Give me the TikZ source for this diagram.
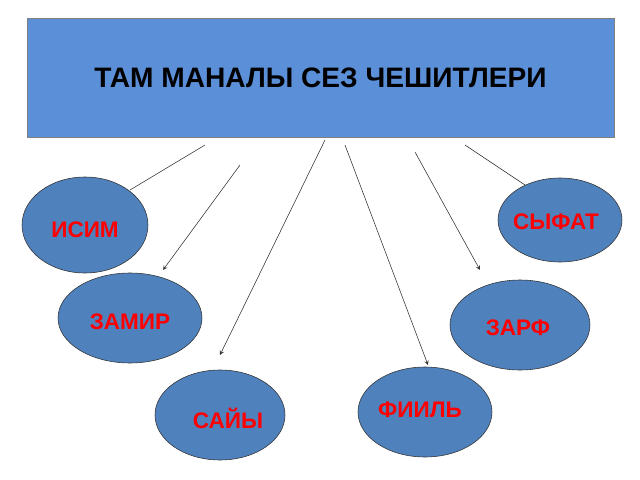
\documentclass[tikz,border=0pt]{standalone}
\usepackage{fontspec}
\setmainfont{Liberation Sans}
\definecolor{boxblue}{HTML}{5B8FD8}
\definecolor{ovalblue}{HTML}{4F81BD}
\begin{document}
\begin{tikzpicture}[x=0.025cm,y=-0.025cm,%
% common options for the ovals:
oval/.style = {draw=black!80, fill=ovalblue},
word/.style = {text=red, font=\bfseries\fontsize{16}{18}\selectfont},
link/.style = {draw=black!80, line width=0.4pt}]
\useasboundingbox (0,0) rectangle (640,480);
\node[draw=gray, fill=boxblue, minimum width=587*0.025cm, minimum height=119*0.025cm,
      font=\bfseries\fontsize{20}{24}\selectfont] (T) at (320.5,77.5) {ТАМ МАНАЛЫ СЕЗ ЧЕШИТЛЕРИ};
\draw[oval] (85,225) ellipse [x radius=63*0.025cm, y radius=48*0.025cm];
\draw[oval] (560,220) ellipse [x radius=62*0.025cm, y radius=42*0.025cm];
\draw[oval] (130,318) ellipse [x radius=72*0.025cm, y radius=45*0.025cm];
\draw[oval] (520,325) ellipse [x radius=70*0.025cm, y radius=45*0.025cm];
\draw[oval] (220,415) ellipse [x radius=65*0.025cm, y radius=45*0.025cm];
\draw[oval] (425,412) ellipse [x radius=67*0.025cm, y radius=45*0.025cm];
\node[word] (N1) at (85,230) {ИСИМ};
\node[word] (N2) at (556,222) {СЫФАТ};
\node[word] (N3) at (130,322) {ЗАМИР};
\node[word] (N4) at (518,328) {ЗАРФ};
\node[word] (N5) at (228,418) {САЙЫ};
\node[word] (N6) at (420,410) {ФИИЛЬ};
\coordinate (s1) at (205,145); \coordinate (e1) at (130,190);
\coordinate (s2) at (240,165); \coordinate (e2) at (163,270);
\coordinate (s3) at (325,140); \coordinate (e3) at (220,355);
\coordinate (s4) at (345,145); \coordinate (e4) at (428,365);
\coordinate (s5) at (415,152); \coordinate (e5) at (480,270);
\coordinate (s6) at (465,145); \coordinate (e6) at (525,185);
\draw[link] (s1) -- (e1);
\draw[link,-stealth] (s2) -- (e2);
\draw[link,-stealth] (s3) -- (e3);
\draw[link,-stealth] (s4) -- (e4);
\draw[link,-stealth] (s5) -- (e5);
\draw[link] (s6) -- (e6);
\end{tikzpicture}
\end{document}
